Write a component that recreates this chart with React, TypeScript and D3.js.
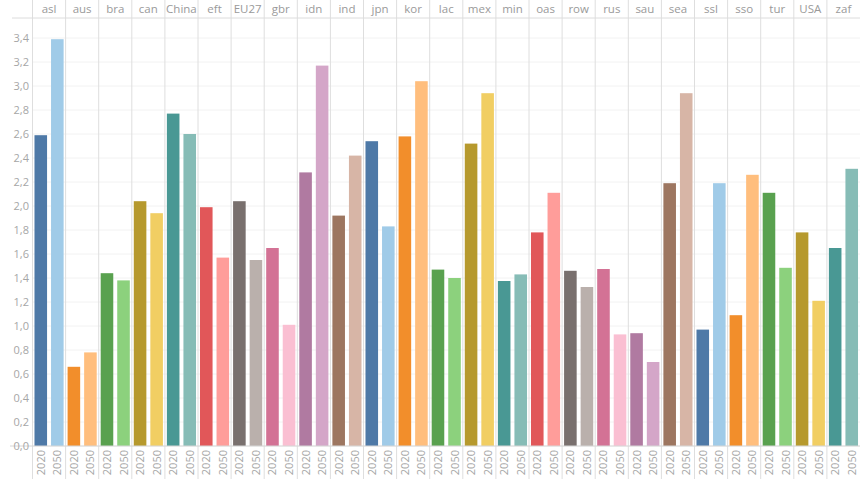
import React from "react";
import * as d3 from "d3";

const regions = [
  "asl", "aus", "bra", "can", "China", "eft", "EU27", "gbr", "idn", "ind",
  "jpn", "kor", "lac", "mex", "min", "oas", "row", "rus", "sau", "sea",
  "ssl", "sso", "tur", "USA", "zaf",
];
const years = ["2020", "2050"];
const values2020 = [
  2.59, 0.66, 1.44, 2.04, 2.77, 1.99, 2.04, 1.65, 2.28, 1.92,
  2.54, 2.58, 1.47, 2.52, 1.375, 1.78, 1.46, 1.475, 0.94, 2.19,
  0.97, 1.09, 2.11, 1.78, 1.65,
];
const values2050 = [
  3.39, 0.78, 1.38, 1.94, 2.6, 1.57, 1.55, 1.01, 3.17, 2.42,
  1.83, 3.04, 1.4, 2.94, 1.43, 2.11, 1.325, 0.93, 0.7, 2.94,
  2.19, 2.26, 1.485, 1.21, 2.31,
];
const yTicks = [0, 0.2, 0.4, 0.6, 0.8, 1.0, 1.2, 1.4, 1.6, 1.8, 2.0, 2.2, 2.4, 2.6, 2.8, 3.0, 3.2, 3.4];
const darkColors = ["#4e79a7", "#f28e2b", "#59a14f", "#b6992d", "#499894", "#e15759", "#79706e", "#d37295", "#b07aa1", "#9d7660"];
const lightColors = ["#a0cbe8", "#ffbe7d", "#8cd17d", "#f1ce63", "#86bcb6", "#ff9d9a", "#bab0ac", "#fabfd2", "#d4a6c8", "#d7b5a6"];

const W = 860;
const H = 479;
const left = 32.5;
const top = 18;
const base = 446;

export default function App() {
  const x = d3.scaleBand().domain(regions).range([left, W]).padding(0);
  const xi = d3.scaleBand().domain(years).range([0, x.bandwidth()]).paddingInner(0.24).paddingOuter(0.12);
  const y = d3.scaleLinear().domain([0, 3.4]).range([base, 38]);
  const fmt = d3.format(".1f");
  const font = "'Open Sans', sans-serif";

  return (
    <svg width={W} height={H} style={{ position: "absolute", left: 0, top: 0, background: "#fff" }}>
      {/* horizontal grid */}
      {yTicks.map((t) => (
        <line key={"g" + t} x1={left} x2={W} y1={y(t)} y2={y(t)} stroke="#f2f2f2" strokeWidth={1} />
      ))}
      {/* column separators */}
      {regions.map((r) => (
        <line key={"s" + r} x1={x(r)} x2={x(r)} y1={0} y2={H} stroke="#dedede" strokeWidth={1} />
      ))}
      {/* bars */}
      {regions.map((r, i) =>
        years.map((yr, j) => {
          const v = j === 0 ? values2020[i] : values2050[i];
          const c = j === 0 ? darkColors[i % 10] : lightColors[i % 10];
          return (
            <rect
              key={r + yr}
              x={(x(r) ?? 0) + (xi(yr) ?? 0)}
              y={y(v)}
              width={xi.bandwidth()}
              height={base - y(v)}
              fill={c}
            />
          );
        })
      )}
      {/* header line and baseline */}
      <line x1={12} x2={W} y1={top} y2={top} stroke="#dcdcdc" />
      <line x1={10} x2={W} y1={base} y2={base} stroke="#d6d6d6" />
      {/* header labels */}
      {regions.map((r) => (
        <text
          key={"h" + r}
          x={(x(r) ?? 0) + x.bandwidth() / 2}
          y={13}
          textAnchor="middle"
          fontFamily={font}
          fontSize={11.5}
          fill="#9a9a9a"
        >
          {r}
        </text>
      ))}
      {/* y axis labels */}
      {yTicks.map((t) => (
        <text
          key={"y" + t}
          x={29}
          y={y(t) + 4}
          textAnchor="end"
          fontFamily={font}
          fontSize={11}
          fill="#a6a6a6"
        >
          {fmt(t).replace(".", ",")}
        </text>
      ))}
      {/* year labels */}
      {regions.map((r) =>
        years.map((yr) => {
          const cx = (x(r) ?? 0) + (xi(yr) ?? 0) + xi.bandwidth() / 2;
          return (
            <text
              key={"x" + r + yr}
              transform={`translate(${cx + 4},${450}) rotate(-90)`}
              textAnchor="end"
              fontFamily={font}
              fontSize={11}
              fill="#a6a6a6"
            >
              {yr}
            </text>
          );
        })
      )}
    </svg>
  );
}
